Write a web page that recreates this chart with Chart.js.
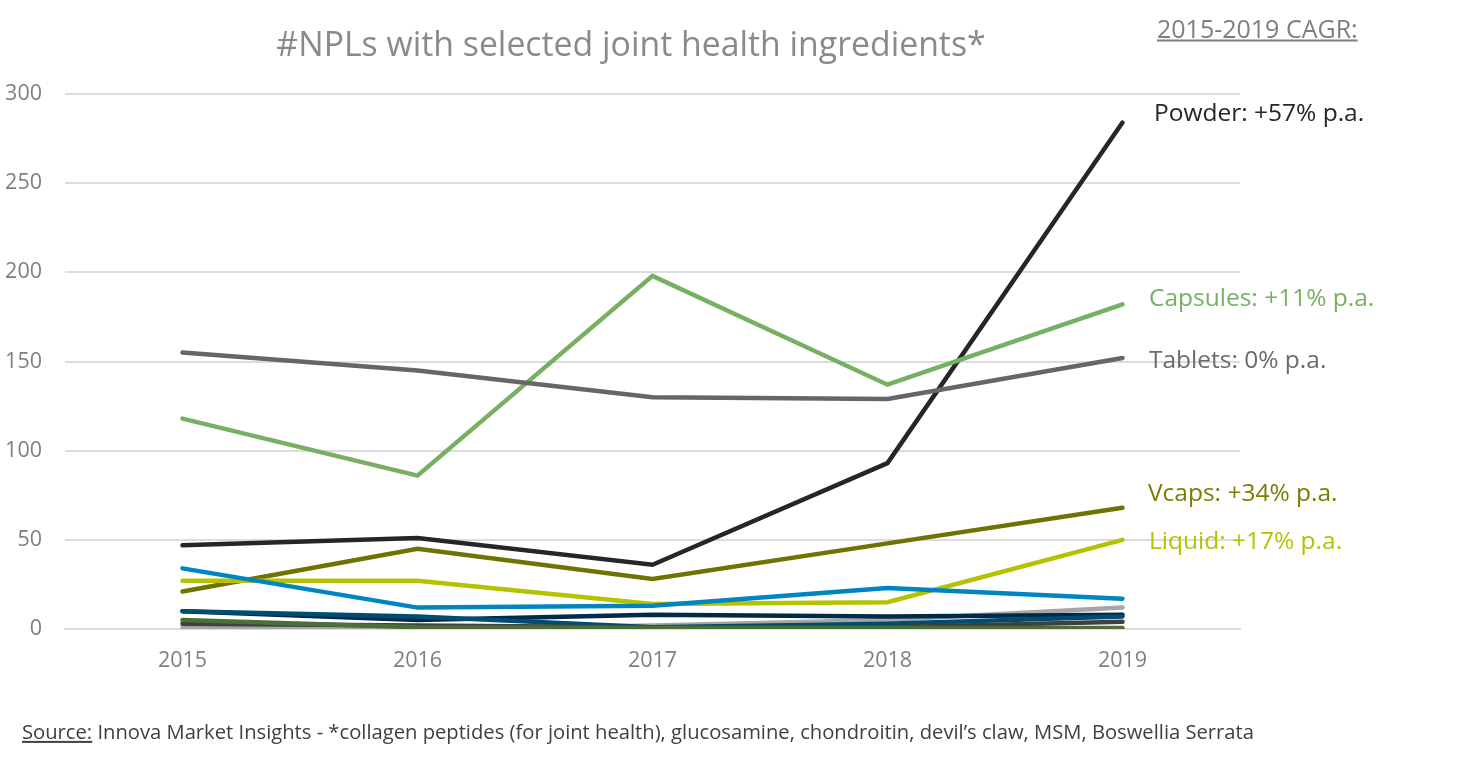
<!DOCTYPE html>
<html>
<head>
<meta charset="utf-8">
<script src="https://cdn.jsdelivr.net/npm/chart.js@4"></script>
<style>
  html, body { margin:0; padding:0; background:#fff; }
  #wrap { position:relative; width:1476px; height:758px; font-family: "Open Sans", Lato, sans-serif; }
  #c { position:absolute; left:0; top:0; }
  .t { position:absolute; white-space:nowrap; transform:translateY(-50%); line-height:1; }
</style>
</head>
<body>
<div id="wrap">
  <canvas id="c" width="1476" height="758"></canvas>
  <div class="t" style="left:0;width:1262px;text-align:center;top:44px;font-size:33.8px;color:#8a8a8a;">#NPLs with selected joint health ingredients*</div>
  <div class="t" style="left:1157px;top:28px;font-size:25px;color:#7f7f7f;text-decoration:underline;">2015-2019 CAGR:</div>
  <div class="t" style="left:1154px;top:112px;font-size:24.5px;color:#262626;">Powder: +57% p.a.</div>
  <div class="t" style="left:1149px;top:297px;font-size:24.5px;color:#77b062;">Capsules: +11% p.a.</div>
  <div class="t" style="left:1149px;top:359px;font-size:24.5px;color:#6b6b6b;">Tablets: 0% p.a.</div>
  <div class="t" style="left:1148px;top:492px;font-size:24.5px;color:#7a7d00;">Vcaps: +34% p.a.</div>
  <div class="t" style="left:1149px;top:540px;font-size:24.5px;color:#b4c300;">Liquid: +17% p.a.</div>
  <div class="t" style="left:22px;top:731px;font-size:20.2px;color:#404040;"><span style="text-decoration:underline;">Source:</span> Innova Market Insights - *collagen peptides (for joint health), glucosamine, chondroitin, devil’s claw, MSM, Boswellia Serrata</div>
</div>
<script>
const years = ['2015', '2016', '2017', '2018', '2019'];
const yTicks = [0, 50, 100, 150, 200, 250, 300];
const powder    = [47, 51, 36, 93, 284];
const capsules  = [118, 86, 198, 137, 182];
const tablets   = [155, 145, 130, 129, 152];
const vcaps     = [21, 45, 28, 48, 68];
const liquid    = [27, 27, 14, 15, 50];
const otherBlue = [34, 12, 13, 23, 17];
const otherNavy = [10, 5, 8, 7, 8];
const otherTeal = [10, 7, 1, 3, 7];
const otherLightGray = [1, 0, 2, 5, 12];
const otherDarkGray  = [3, 2, 1, 1, 4];
const otherGreen     = [5, 1, 0.5, 0.5, 0.5];

function ds(label, data, color) {
  return { label, data, borderColor: color, backgroundColor: color, borderWidth: 4.5,
           pointRadius: 0, tension: 0, fill: false, borderCapStyle: 'round', borderJoinStyle: 'miter' };
}

new Chart(document.getElementById('c'), {
  type: 'line',
  data: {
    labels: years,
    datasets: [
      ds('Powder', powder, '#262626'),
      ds('Capsules', capsules, '#77b062'),
      ds('Tablets', tablets, '#666666'),
      ds('Vcaps', vcaps, '#6f7300'),
      ds('Liquid', liquid, '#b5c200'),
      ds('Blue', otherBlue, '#0085c0'),
      ds('Light gray', otherLightGray, '#a6a6a6'),
      ds('Navy', otherNavy, '#002b48'),
      ds('Teal', otherTeal, '#004d73'),
      ds('Dark gray', otherDarkGray, '#404040'),
      ds('Dark green', otherGreen, '#4a7038')
    ].reverse()
  },
  options: {
    responsive: false,
    animation: false,
    layout: { padding: { top: 94, right: 236, bottom: 0, left: 0 } },
    plugins: { legend: { display: false }, title: { display: false }, tooltip: { enabled: false } },
    scales: {
      x: {
        offset: true,
        grid: { display: false, drawTicks: false },
        border: { display: true, color: '#dcdcdc', width: 2 },
        ticks: { color: '#7f7f7f', font: { family: 'Open Sans', size: 21.5 }, padding: 19 },
        afterFit: (s) => { s.height = 129; }
      },
      y: {
        min: 0, max: 300,
        afterBuildTicks: (s) => { s.ticks = yTicks.map(v => ({ value: v })); },
        grid: { color: '#dcdcdc', lineWidth: 2, drawTicks: false },
        border: { display: false },
        ticks: { color: '#7f7f7f', font: { family: 'Open Sans', size: 21.5 }, padding: 23 },
        afterFit: (s) => { s.width = 65; }
      }
    }
  }
});
</script>
</body>
</html>
